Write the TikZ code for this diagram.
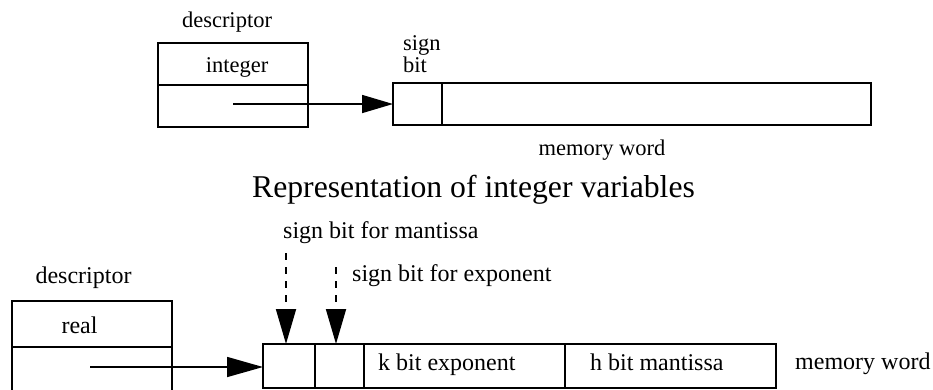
\documentclass[tikz,border=0pt]{standalone}
\usepackage{fontspec}
\setmainfont{Liberation Serif}
\usetikzlibrary{arrows.meta, positioning}

\begin{document}
\begin{tikzpicture}[x=1pt, y=-1pt,
  cell/.style={draw, line width=1.6pt, minimum height=42pt, inner sep=0pt, outer sep=0pt},
  toptext/.style={font=\fontsize{22.5}{19}\selectfont, inner sep=0pt},
  bottext/.style={font=\fontsize{24}{24}\selectfont, inner sep=0pt},
  ptr/.style={line width=1.6pt, -{Triangle[length=31pt, width=18pt]}},
  bigptr/.style={line width=1.6pt, -{Triangle[length=36pt, width=20pt]}},
  flag/.style={line width=1.8pt, dash pattern=on 7pt off 7pt, -{Triangle[length=35pt, width=20pt]}}]
  \useasboundingbox (0,0) rectangle (933,389);
  \clip (0,0) rectangle (933,389);

  % === TOP: integer descriptor and its memory word ===
  \node[toptext, anchor=base] (idesc) at (227,27) {descriptor};
  \node[cell, minimum width=150pt] (itag) at (233,64) {};
  \node[cell, minimum width=150pt] (iptr) at (233,106) {};
  \node[toptext, anchor=base] (itype) at (237,72) {integer};

  \node[cell, minimum width=49pt] (isign) at (417.5,104) {};
  \node[cell, minimum width=429pt, right=0pt of isign] (ibits) {};
  \node[toptext, anchor=base west, align=left] (ibit) at (403,72) {sign\\bit};
  \node[toptext, anchor=base] (iword) at (602,155) {memory word};

  \coordinate (ifrom) at (233,104);
  \draw[ptr] (ifrom) -- (ifrom -| isign.west);

  \node[font=\fontsize{31.7}{32}\selectfont, inner sep=0pt, anchor=base] (caption) at (473.5,197)
    {Representation of integer variables};

  % === BOTTOM: real descriptor and its memory word ===
  \node[bottext, anchor=base west] (mflag) at (283,238) {sign bit for mantissa};
  \node[bottext, anchor=base west] (eflag) at (352,281) {sign bit for exponent};

  \node[bottext, anchor=base] (rdesc) at (83.5,283) {descriptor};
  \node[cell, minimum width=160pt, minimum height=46pt] (rtag) at (92,324) {};
  \node[cell, minimum width=160pt, minimum height=46pt] (rref) at (92,370) {};
  \node[bottext, anchor=base] (rtype) at (79.5,333) {real};

  \node[cell, minimum width=52pt, minimum height=44pt] (msign) at (289,366) {};
  \node[cell, minimum width=49pt, minimum height=44pt, right=0pt of msign] (esign) {};
  \node[cell, minimum width=201pt, minimum height=44pt, right=0pt of esign] (expo) {};
  \node[cell, minimum width=211pt, minimum height=44pt, right=0pt of expo] (mant) {};
  \node[bottext, anchor=base west] (klbl) at (378,370) {k bit exponent};
  \node[bottext, anchor=base west] (hlbl) at (590,370) {h bit mantissa};
  \node[bottext, anchor=base west] (rword) at (795,369) {memory word};

  \coordinate (rfrom) at (90,367);
  \draw[bigptr] (rfrom) -- (rfrom -| msign.west);

  % dashed pointers onto the two sign bits
  \coordinate (mtop) at (286,253);
  \coordinate (etop) at (336,267);
  \draw[flag] (mtop) -- (mtop |- msign.north);
  \draw[flag] (etop) -- (etop |- esign.north);
\end{tikzpicture}
\end{document}
